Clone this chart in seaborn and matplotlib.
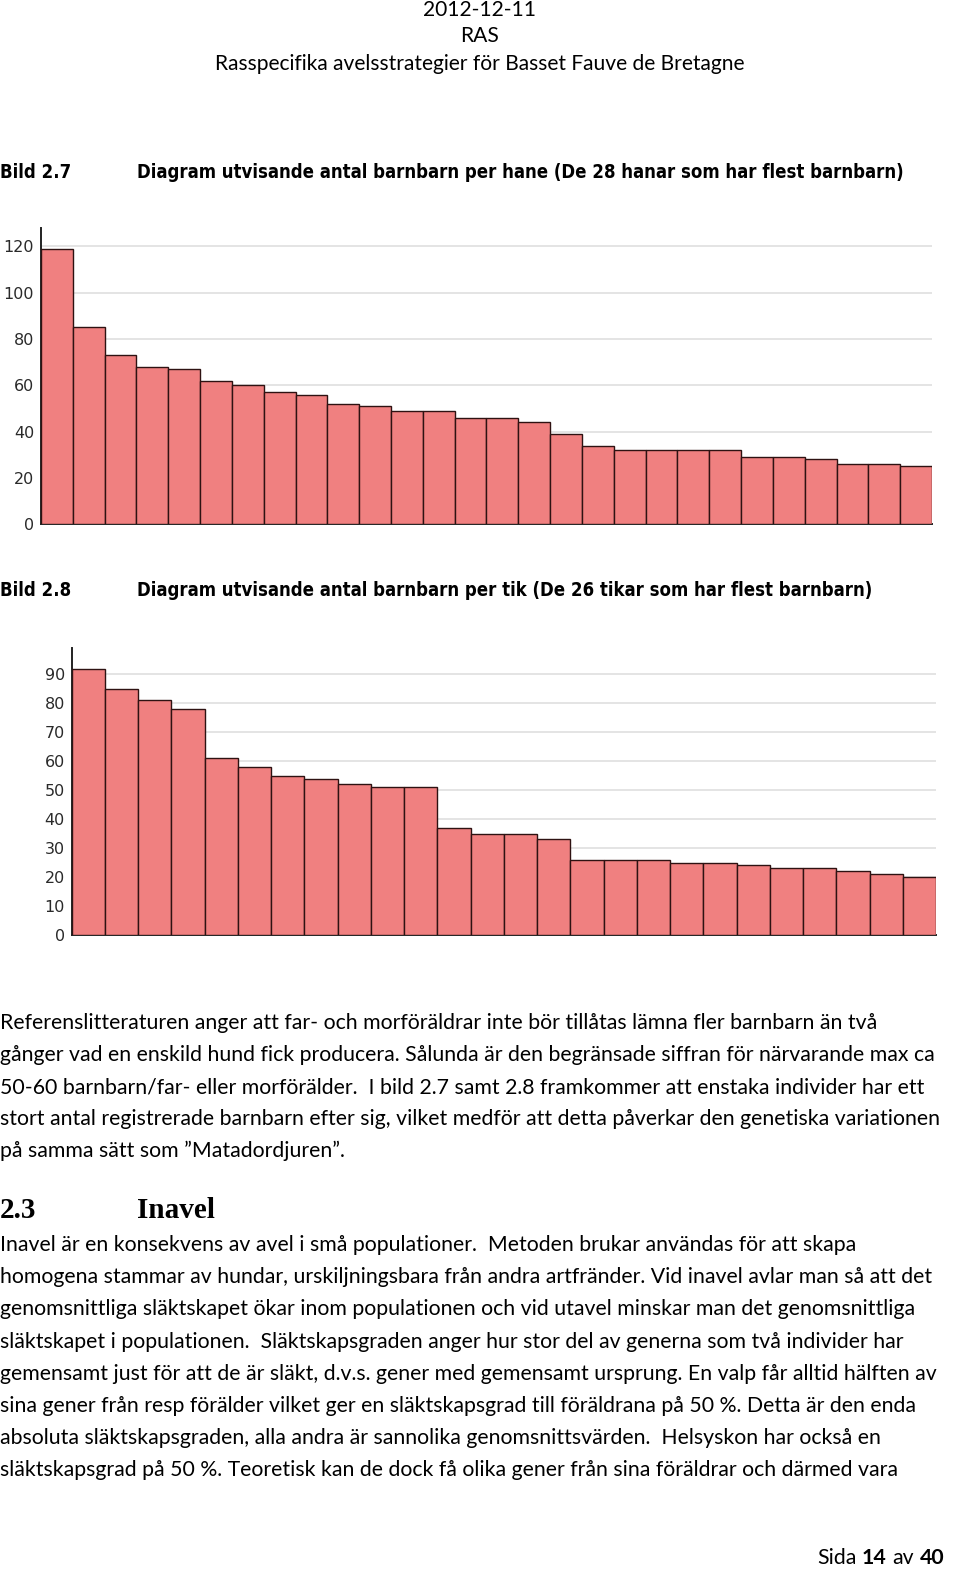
import matplotlib
matplotlib.use("Agg")
import matplotlib.pyplot as plt
import seaborn as sns
import pandas as pd

# ---------------- data ----------------
hanar_values = [119, 85, 73, 68, 67, 62, 60, 57, 56, 52, 51, 49, 49, 46,
                46, 44, 39, 34, 32, 32, 32, 32, 29, 29, 28, 26, 26, 25]
hanar_ticks = [0, 20, 40, 60, 80, 100, 120]

tikar_values = [92, 85, 81, 78, 61, 58, 55, 54, 52, 51, 51, 37, 35, 35,
                33, 26, 26, 26, 25, 25, 24, 23, 23, 22, 21, 20]
tikar_ticks = [0, 10, 20, 30, 40, 50, 60, 70, 80, 90]

header_lines = ["2012-12-11", "RAS",
                "Rasspecifika avelsstrategier för Basset Fauve de Bretagne"]
caption1 = ("Bild 2.7", "Diagram utvisande antal barnbarn per hane (De 28 hanar som har flest barnbarn)")
caption2 = ("Bild 2.8", "Diagram utvisande antal barnbarn per tik (De 26 tikar som har flest barnbarn)")

para1 = [
    "Referenslitteraturen anger att far- och morföräldrar inte bör tillåtas lämna fler barnbarn än två",
    "gånger vad en enskild hund fick producera. Sålunda är den begränsade siffran för närvarande max ca",
    "50-60 barnbarn/far- eller morförälder.  I bild 2.7 samt 2.8 framkommer att enstaka individer har ett",
    "stort antal registrerade barnbarn efter sig, vilket medför att detta påverkar den genetiska variationen",
    "på samma sätt som ”Matadordjuren”.",
]
heading = ("2.3", "Inavel")
para2 = [
    "Inavel är en konsekvens av avel i små populationer.  Metoden brukar användas för att skapa",
    "homogena stammar av hundar, urskiljningsbara från andra artfränder. Vid inavel avlar man så att det",
    "genomsnittliga släktskapet ökar inom populationen och vid utavel minskar man det genomsnittliga",
    "släktskapet i populationen.  Släktskapsgraden anger hur stor del av generna som två individer har",
    "gemensamt just för att de är släkt, d.v.s. gener med gemensamt ursprung. En valp får alltid hälften av",
    "sina gener från resp förälder vilket ger en släktskapsgrad till föräldrana på 50 %. Detta är den enda",
    "absoluta släktskapsgraden, alla andra är sannolika genomsnittsvärden.  Helsyskon har också en",
    "släktskapsgrad på 50 %. Teoretisk kan de dock få olika gener från sina föräldrar och därmed vara",
]
footer = [("Sida ", "normal"), ("14", "bold"), (" av ", "normal"), ("40", "bold")]

# ---------------- style ----------------
sns.set_theme(style="white")
plt.rcParams["font.family"] = ["DejaVu Sans"]

W, H = 960, 1595
fig = plt.figure(figsize=(W / 100, H / 100), dpi=100)
renderer = fig.canvas.get_renderer()

BODY = ["Lato", "DejaVu Sans"]
NARROW = ["DejaVu Sans"]
SERIF = ["Liberation Serif", "DejaVu Serif"]


def fx(x):
    return x / W


def fy(y):
    return 1 - y / H


def text_width(s, size, **kw):
    t = fig.text(0, 0, s, fontsize=size, **kw)
    w = t.get_window_extent(renderer).width
    t.remove()
    return w


def fit_size(s, target, **kw):
    return 20 * target / text_width(s, 20, **kw)


def bar_chart(rect, values, ticks, ytop):
    ax = fig.add_axes(rect)
    df = pd.DataFrame({"rank": [str(i) for i in range(len(values))],
                       "barnbarn": values})
    sns.barplot(data=df, x="rank", y="barnbarn", color="#F08080",
                saturation=1, width=1.0, edgecolor="#2e1212",
                linewidth=1.0, ax=ax, zorder=3)
    ax.set_xlim(-0.5, len(values) - 0.5)
    ax.set_ylim(0, ytop)
    ax.set_yticks(ticks)
    ax.set_yticklabels([str(t) for t in ticks])
    ax.set_xticks([])
    ax.set_xlabel("")
    ax.set_ylabel("")
    ax.yaxis.grid(True, color="#e2e2e2", linewidth=1.3, zorder=0)
    ax.set_axisbelow(True)
    ax.tick_params(axis="y", length=0, pad=5, labelsize=11.5,
                   labelcolor="#2a2a2a")
    for s in ["top", "right"]:
        ax.spines[s].set_visible(False)
    for s in ["left", "bottom"]:
        ax.spines[s].set_color("#222222")
        ax.spines[s].set_linewidth(1.4)
    ax.set_facecolor("white")
    return ax


# chart 1: axis x 41..932, y0=524.3, top=227.7
bar_chart([fx(41), fy(524.3), fx(932) - fx(41), fy(227.7) - fy(524.3)],
          hanar_values, hanar_ticks, 128)
# chart 2: axis x 71.7..936, y0=935, top=648.3
bar_chart([fx(71.7), fy(935), fx(936) - fx(71.7), fy(648.3) - fy(935)],
          tikar_values, tikar_ticks, 99)

# ---------------- page text ----------------
hsize = fit_size(header_lines[2], 532, family=BODY)
for y, s in zip([10, 36, 64], header_lines):
    fig.text(0.5, fy(y), s, ha="center", va="center", fontsize=hsize,
             family=BODY, color="black")

ckw = dict(family=NARROW, weight="bold", fontstretch="condensed")
csize = fit_size(caption1[1], 908 - 137, **ckw)
for y, cap in [(172, caption1), (591, caption2)]:
    fig.text(fx(0), fy(y), cap[0], ha="left", va="center", fontsize=csize,
             color="black", **ckw)
    fig.text(fx(137), fy(y), cap[1], ha="left", va="center", fontsize=csize,
             color="black", **ckw)

bsize = fit_size(para1[3], 942, family=BODY)
for i, s in enumerate(para1):
    fig.text(fx(0), fy(1023 + 32 * i), s, ha="left", va="center",
             fontsize=bsize, family=BODY, color="black")

fig.text(fx(0), fy(1210), heading[0], ha="left", va="center", fontsize=21,
         family=SERIF, weight="bold", color="black")
fig.text(fx(137), fy(1210), heading[1], ha="left", va="center", fontsize=21,
         family=SERIF, weight="bold", color="black")

for i, s in enumerate(para2):
    fig.text(fx(0), fy(1245 + 32.2 * i), s, ha="left", va="center",
             fontsize=bsize, family=BODY, color="black")

# footer, right aligned at x=944, pieces placed by measured widths
fsize = bsize
x_right = 944
widths = [text_width(s, fsize, family=BODY, weight=w) for s, w in footer]
# trailing/leading spaces are not measured well; add explicit space width
space_w = text_width("a a", fsize, family=BODY) - text_width("aa", fsize, family=BODY)
pieces = []
for (s, w), wd in zip(footer, widths):
    core = s.strip()
    pieces.append((core, w, text_width(core, fsize, family=BODY, weight=w),
                   s.startswith(" "), s.endswith(" ")))
total = 0
for core, w, wd, lead, trail in pieces:
    total += wd + space_w * (lead + trail)
x = x_right - total
for core, w, wd, lead, trail in pieces:
    if lead:
        x += space_w
    fig.text(fx(x), fy(1558), core, ha="left", va="center", fontsize=fsize,
             family=BODY, weight=w, color="black")
    x += wd
    if trail:
        x += space_w

fig.savefig("out.png", dpi=100, facecolor="white")
